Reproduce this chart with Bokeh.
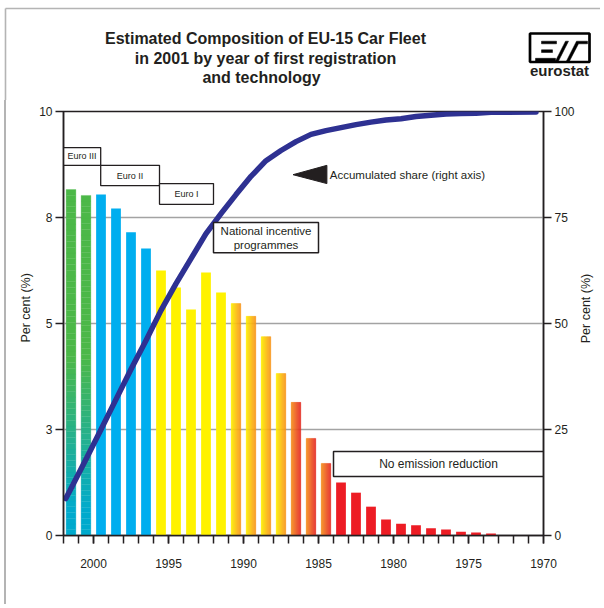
import numpy as np
from bokeh.plotting import figure
from bokeh.layouts import column, row
from bokeh.models import Range1d, LinearAxis, FixedTicker, Label
from bokeh.core.properties import value
from bokeh.embed import file_html
from bokeh.resources import INLINE

# ---------------- data ----------------
years = list(range(2001, 1972, -1))  # year of first registration (29 bars)
shares = [8.16, 8.02, 8.04, 7.71, 7.15, 6.77, 6.25, 5.85, 5.33, 6.20,
          5.73, 5.47, 5.17, 4.69, 3.82, 3.14, 2.29, 1.70, 1.25, 1.01,
          0.68, 0.38, 0.28, 0.24, 0.17, 0.14, 0.09, 0.07, 0.05]
technology = (["Euro III"] * 2 + ["Euro II"] * 4 + ["Euro I"] * 5 +
              ["Incentive A"] * 4 + ["Incentive B"] * 3 + ["No reduction"] * 11)

acc_years = [2001.85, 2001.5, 2000.5, 1999.5, 1998.5, 1997.5, 1996.5, 1995.5,
             1994.5, 1993.5, 1992.5, 1991.5, 1990.5, 1989.5, 1988.5, 1987.5,
             1986.5, 1985.5, 1984.5, 1983.5, 1982.5, 1981.5, 1980.5, 1979.5,
             1978.5, 1977.5, 1976.5, 1975.5, 1974.5, 1973.5, 1970.5]
acc_share = [8.7, 11.1, 18.0, 25.0, 32.1, 39.2, 46.0, 53.1, 59.4, 65.3, 71.2,
             75.9, 80.4, 84.7, 88.4, 90.8, 92.9, 94.6, 95.5, 96.2, 96.9, 97.5,
             98.0, 98.3, 98.8, 99.1, 99.4, 99.5, 99.6, 99.8, 99.9]

left_ticks = [0, 2.5, 5, 7.5, 10]
left_tick_labels = ["0", "3", "5", "8", "10"]
right_ticks = [0, 25, 50, 75, 100]
year_labels = [2000, 1995, 1990, 1985, 1980, 1975, 1970]

title_lines = ["Estimated Composition of EU-15 Car Fleet",
               "in 2001 by year of first registration",
               "and technology"]
axis_title = "Per cent (%)"

# ---------------- styles ----------------
FONT = "Liberation Sans"
NARROW = "Liberation Sans Narrow, Liberation Sans"
INK = "#231f20"
GRAYLINE = "#b4b4b4"
GREEN, TEAL = "#4cb848", "#00aacd"
BLUE, YELLOW, ORANGE, RED = "#00aeef", "#fff200", "#f7941d", "#ed1c24"
LINE_BLUE = "#2e3192"
BAR_W = 0.65
W = 600
TITLE_H = 100
MAIN_H = 504
MAIN_W = 578


def hex2rgb(h):
    h = h.lstrip("#")
    return np.array([int(h[i:i + 2], 16) for i in (0, 2, 4)], dtype=float)


def mix(c1, c2, t):
    a, b = hex2rgb(c1), hex2rgb(c2)
    c = a + (b - a) * t
    return "#%02x%02x%02x" % tuple(int(round(v)) for v in c)


def blank(width, height, xr, yr):
    f = figure(width=width, height=height, output_backend="svg",
               toolbar_location=None, x_range=Range1d(*xr), y_range=Range1d(*yr),
               x_axis_type=None, y_axis_type=None, min_border=0)
    f.frame_align = False
    f.outline_line_color = None
    f.grid.visible = False
    f.background_fill_color = "white"
    f.border_fill_color = "white"
    return f


# ================= header figure (title + logo) =================
h = blank(W, TITLE_H, (0, W), (TITLE_H, 0))

# page frame lines
h.segment(x0=[5, 5], y0=[8, 8], x1=[W, 5], y1=[8, TITLE_H],
          line_color=GRAYLINE, line_width=1.6)

h.text(x=[265, 265, 261], y=[38, 58, 77], text=title_lines,
       text_font=value(FONT), text_font_size="16px", text_font_style="bold",
       text_color=INK, text_align="center", text_baseline="middle")

# eurostat logo
h.quad(left=529.5, right=589, top=33, bottom=61.5, fill_color="white",
       line_color="black", line_width=2.7)
h.patches(xs=[[541, 556, 556, 541], [541, 552, 552, 541], [535, 555, 555, 535],
              [555, 565, 568, 558], [566, 576, 587, 587, 578, 569]],
          ys=[[40.7, 40.7, 43.3, 43.3], [49.3, 49.3, 52, 52],
              [57.8, 57.8, 60.5, 60.5], [60.5, 40.7, 40.7, 60.5],
              [60.5, 40.7, 40.7, 43.3, 43.3, 60.5]],
          fill_color="black", line_color="black", line_width=0.5)
h.text(x=[559], y=[70], text=["eurostat"], text_font=value(FONT),
       text_font_size="15px", text_font_style="bold", text_color=INK,
       text_align="center", text_baseline="middle")

# ================= right-hand axis title strip =================
s = blank(W - MAIN_W, MAIN_H, (MAIN_W, W), (TITLE_H + MAIN_H, TITLE_H))
s.text(x=[585], y=[308], text=[axis_title], angle=np.pi / 2,
       text_font=value(FONT), text_font_size="12.5px", text_color=INK,
       text_align="center", text_baseline="middle")

# ================= main chart =================
p = figure(width=MAIN_W, height=MAIN_H, output_backend="svg", toolbar_location=None,
           x_range=Range1d(2002, 1970), y_range=Range1d(0, 10),
           min_border_left=63, min_border_right=MAIN_W - 543, min_border_top=11,
           min_border_bottom=69)
p.frame_align = False
p.extra_y_ranges = {"pct": Range1d(0, 100)}
p.border_fill_color = None
p.styles = {"background": "linear-gradient(to right, #ffffff 4.2px, %s 4.2px, "
                          "%s 5.8px, #ffffff 5.8px)" % (GRAYLINE, GRAYLINE)}

p.outline_line_color = INK
p.outline_line_width = 1.5
p.background_fill_color = "white"
p.xgrid.visible = False
p.ygrid.ticker = FixedTicker(ticks=[2.5, 5, 7.5])
p.ygrid.grid_line_color = "#a3a3a3"
p.ygrid.grid_line_width = 1.5


def style_axis(ax):
    ax.axis_line_color = INK
    ax.axis_line_width = 1.5
    ax.major_tick_line_color = INK
    ax.major_tick_line_width = 1.5
    ax.minor_tick_line_color = INK
    ax.minor_tick_line_width = 1.5
    ax.major_tick_out = 8
    ax.major_tick_in = 0
    ax.major_label_text_font = FONT
    ax.major_label_text_font_size = "12px"
    ax.major_label_text_color = INK
    ax.axis_label_text_font = FONT
    ax.axis_label_text_font_size = "12.5px"
    ax.axis_label_text_font_style = "normal"
    ax.axis_label_text_color = INK


SHIFT = "\u00a0" * 9  # move the axis title up a little, as in the original

xa = p.xaxis[0]
style_axis(xa)
xa.ticker = FixedTicker(ticks=year_labels, minor_ticks=list(range(1970, 2003)))
xa.minor_tick_out = 8
xa.minor_tick_in = 0
xa.major_label_standoff = 15

ya = p.yaxis[0]
style_axis(ya)
ya.ticker = FixedTicker(ticks=left_ticks)
ya.major_label_overrides = {float(t): s for t, s in zip(left_ticks, left_tick_labels)}
ya.minor_tick_line_color = None
ya.major_label_standoff = 3
ya.axis_label = SHIFT + axis_title
ya.axis_label_standoff = 3

ra = LinearAxis(y_range_name="pct", ticker=FixedTicker(ticks=right_ticks))
style_axis(ra)
ra.minor_tick_line_color = None
ra.major_label_standoff = 3
p.add_layout(ra, "right")

# ---------------- bars ----------------
solid = {"Euro II": BLUE, "Euro I": YELLOW, "No reduction": RED}
hgrad = {"Incentive A": (YELLOW, ORANGE), "Incentive B": (ORANGE, "#e42a26")}
NS = 14
NV = 60
for yr, hgt, tech in zip(years, shares, technology):
    c = yr + 0.5
    if tech in solid:
        p.vbar(x=[c], top=[hgt], bottom=0, width=BAR_W, fill_color=solid[tech],
               line_color=None)
    elif tech in hgrad:
        c1, c2 = hgrad[tech]
        edges = c + BAR_W / 2 - np.arange(NS + 1) * BAR_W / NS
        cols = [mix(c1, c2, (i + 0.5) / NS) for i in range(NS)]
        p.quad(left=edges[1:], right=edges[:-1], bottom=0, top=hgt,
               fill_color=cols, line_color=cols, line_width=0.3)
    else:  # Euro III: vertical green -> teal gradient
        ys = np.linspace(0, hgt, NV + 1)
        mids = (ys[:-1] + ys[1:]) / 2
        tt = np.clip((mids - 0.6) / 3.6, 0, 1)
        cols = [mix(TEAL, GREEN, t) for t in tt]
        p.quad(left=c - BAR_W / 2, right=c + BAR_W / 2, bottom=ys[:-1], top=ys[1:],
               fill_color=cols, line_color=cols, line_width=0.3)

# ---------------- accumulated share line ----------------
p.line(acc_years, acc_share, y_range_name="pct", line_color=LINE_BLUE,
       line_width=5.5, line_cap="round", line_join="round")

# ---------------- annotation boxes ----------------
boxes = [
    (2002.0, 1999.52, 8.73, 9.15, "Euro III"),
    (1999.52, 1995.6, 8.25, 8.73, "Euro II"),
    (1995.6, 1992.0, 7.81, 8.30, "Euro I"),
]
for l, r, b, t, txt in boxes:
    p.quad(left=l, right=r, bottom=b, top=t, fill_color="white",
           line_color=INK, line_width=1.3)
    p.add_layout(Label(x=(l + r) / 2, y=(b + t) / 2, text=txt,
                       text_font=NARROW, text_font_size="9px",
                       text_color=INK, text_align="center",
                       text_baseline="middle"))

p.quad(left=1992.0, right=1985.0, bottom=6.67, top=7.38, fill_color="white",
       line_color=INK, line_width=1.5)
p.add_layout(Label(x=1988.5, y=7.19, text="National incentive",
                   text_font=FONT, text_font_size="11.5px", text_color=INK,
                   text_align="center", text_baseline="middle"))
p.add_layout(Label(x=1988.5, y=6.85, text="programmes",
                   text_font=FONT, text_font_size="11.5px", text_color=INK,
                   text_align="center", text_baseline="middle"))

p.quad(left=1984.0, right=1970.0, bottom=1.39, top=1.98, fill_color="white",
       line_color=INK, line_width=1.5)
p.add_layout(Label(x=1977.0, y=1.69, text="No emission reduction",
                   text_font=FONT, text_font_size="12px", text_color=INK,
                   text_align="center", text_baseline="middle"))

# arrow + label for the line
p.patch([1986.7, 1984.44, 1984.44], [8.51, 8.73, 8.30], fill_color=INK,
        line_color=INK)
p.add_layout(Label(x=1984.25, y=8.51, text="Accumulated share (right axis)",
                   text_font=FONT, text_font_size="11.5px", text_color=INK,
                   text_align="left", text_baseline="middle"))

layout = column(h, row(p, s, spacing=0), spacing=0)
open("out.html", "w").write(file_html(layout, INLINE))
